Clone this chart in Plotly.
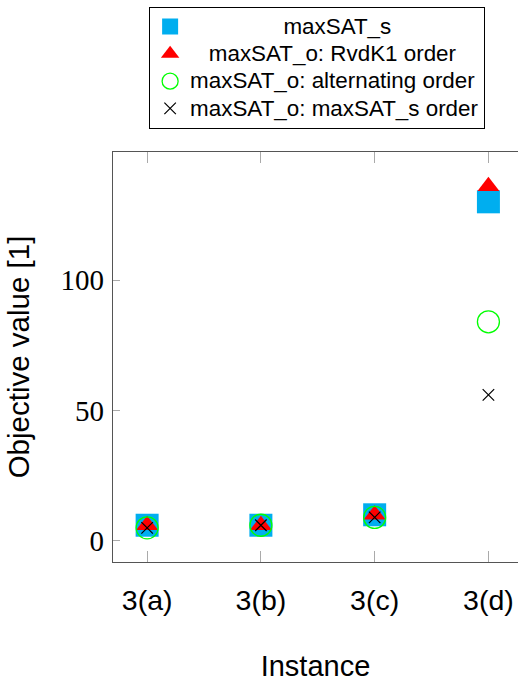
import plotly.graph_objects as go

instances = ["3(a)", "3(b)", "3(c)", "3(d)"]
x_pos = [1, 2, 3, 4]
maxsat_s = [6, 6, 10, 130]
rvdk1 = [6, 6, 10, 136]
alternating = [5, 6, 9, 84]
maxsat_s_order = [5, 6, 9, 56]
y_ticks = [0, 50, 100]

NB = "\u00a0"
LEG_SPAN = '<span style="font-size:22.4px">{}</span>'
names = [
    LEG_SPAN.format(NB * 15 + "maxSAT_s"),
    LEG_SPAN.format(NB * 3 + "maxSAT_o: RvdK1 order"),
    LEG_SPAN.format("maxSAT_o: alternating order"),
    LEG_SPAN.format("maxSAT_o: maxSAT_s order"),
]

fig = go.Figure()
fig.add_trace(go.Scatter(x=x_pos, y=maxsat_s, mode="markers", name=names[0],
                         marker=dict(symbol="square", size=23, color="#00aeef", line=dict(width=0))))
fig.add_trace(go.Scatter(x=x_pos, y=rvdk1, mode="markers", name=names[1],
                         marker=dict(symbol="triangle-up", size=19, color="#ff0000", line=dict(width=0))))
fig.add_trace(go.Scatter(x=x_pos, y=alternating, mode="markers", name=names[2],
                         marker=dict(symbol="circle-open", size=22, color="#00ff00", line=dict(width=1.3, color="#00ff00"))))
fig.add_trace(go.Scatter(x=x_pos, y=maxsat_s_order, mode="markers", name=names[3],
                         marker=dict(symbol="x-thin-open", size=11.5, color="black", line=dict(width=1.2, color="black"))))

fig.update_layout(
    width=518, height=682,
    margin=dict(l=113, r=0, t=152, b=120),
    plot_bgcolor="white", paper_bgcolor="white",
    font=dict(family="Liberation Sans, Arial, sans-serif", color="black"),
    legend=dict(
        x=0.504, xanchor="center", y=1.354, yanchor="top",
        bordercolor="black", borderwidth=1, bgcolor="white",
        font=dict(size=18.7, family="Liberation Sans, Arial, sans-serif"),
        tracegroupgap=0, itemsizing="trace",
    ),
    xaxis=dict(
        range=[0.7, 4.26], tickmode="array", tickvals=x_pos, ticktext=instances,
        showline=True, linecolor="#555555", linewidth=1.2, mirror="ticks",
        ticks="inside", ticklen=11, tickcolor="#aaaaaa", tickwidth=1,
        showgrid=False, zeroline=False,
        tickfont=dict(size=28.5, family="Liberation Sans, Arial, sans-serif"),
        ticklabelstandoff=13,
        title=dict(text="Instance", font=dict(size=29), standoff=40),
    ),
    yaxis=dict(
        range=[-8.1, 149.1], tickmode="array", tickvals=y_ticks,
        showline=True, linecolor="#555555", linewidth=1.2, mirror=False,
        ticks="inside", ticklen=7, tickcolor="#aaaaaa", tickwidth=1,
        showgrid=False, zeroline=False,
        tickfont=dict(size=29, family="Liberation Serif, Times New Roman, serif"),
        ticklabelstandoff=2,
        title=dict(text="Objective value [1]", font=dict(size=29.5), standoff=22),
    ),
    yaxis2=dict(
        range=[-8.1, 149.1], matches="y", overlaying="y", side="right", anchor="x",
        tickmode="array", tickvals=y_ticks, showticklabels=False,
        showline=False, ticks="inside", ticklen=7, tickcolor="#aaaaaa", tickwidth=1,
        showgrid=False, zeroline=False,
    ),
)

fig.write_html("out.html")
